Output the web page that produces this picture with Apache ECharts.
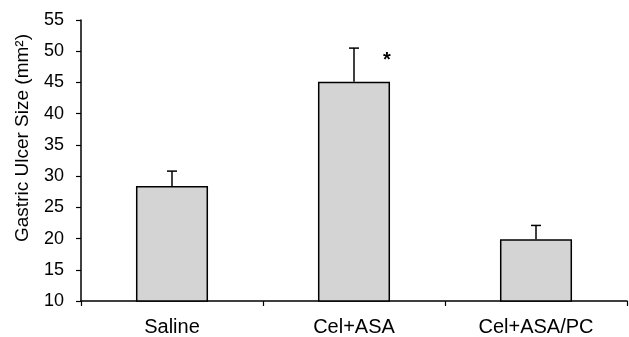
<!DOCTYPE html>
<html>
<head>
<meta charset="utf-8">
<script src="https://cdn.jsdelivr.net/npm/echarts@6/dist/echarts.min.js"></script>
<style>html,body{margin:0;padding:0;background:#fff}#c{width:629px;height:337px}</style>
</head>
<body>
<div id="c"></div>
<script>
var categories = ['Saline', 'Cel+ASA', 'Cel+ASA/PC'];
var means = [28.4, 45.1, 19.9];
var errorTops = [30.8, 50.5, 22.1];
var marks = ['', '*', ''];
var yTicks = [10, 15, 20, 25, 30, 35, 40, 45, 50, 55];
var yTitle = 'Gastric Ulcer Size (mm²)';

var chart = echarts.init(document.getElementById('c'), null, {renderer: 'canvas'});
var font = 'Liberation Sans, Arial, sans-serif';
chart.setOption({
  animation: false,
  grid: {left: 81, right: 2, top: 20, bottom: 35},
  graphic: [{
    type: 'text', x: 23, y: 138, rotation: Math.PI / 2,
    style: {text: yTitle, fill: '#000', font: '19px ' + font, textAlign: 'center', textVerticalAlign: 'middle'}
  }],
  xAxis: {
    type: 'category',
    data: categories,
    axisLine: {lineStyle: {color: '#000', width: 1.5}},
    axisTick: {show: true, length: 5, lineStyle: {color: '#000', width: 1.2}},
    axisLabel: {color: '#000', fontSize: 20, fontFamily: font, margin: 16}
  },
  yAxis: {
    type: 'value',
    min: yTicks[0], max: yTicks[yTicks.length - 1], interval: 5,
    axisLine: {show: true, lineStyle: {color: '#000', width: 1.5}},
    axisTick: {show: true, length: 5, lineStyle: {color: '#000', width: 1.2}},
    splitLine: {show: false},
    axisLabel: {color: '#000', fontSize: 18, fontFamily: font, margin: 17}
  },
  series: [
    {
      type: 'bar',
      data: means,
      barWidth: '39.6%',
      itemStyle: {color: '#d4d4d4', borderColor: '#000', borderWidth: 1.5}
    },
    {
      type: 'custom',
      data: categories.map(function (c, i) { return [i, means[i], errorTops[i]]; }),
      renderItem: function (params, api) {
        var i = api.value(0);
        var lo = api.coord([i, api.value(1)]);
        var hi = api.coord([i, api.value(2)]);
        var children = [
          {type: 'line', shape: {x1: hi[0], y1: lo[1], x2: hi[0], y2: hi[1]}, style: {stroke: '#000', lineWidth: 1.5}},
          {type: 'line', shape: {x1: hi[0] - 5, y1: hi[1], x2: hi[0] + 5, y2: hi[1]}, style: {stroke: '#000', lineWidth: 1.5}}
        ];
        if (marks[i]) {
          children.push({type: 'text', x: hi[0] + 33, y: hi[1] + 12,
            style: {text: marks[i], fill: '#000', font: 'bold 20px ' + font, textAlign: 'center', textVerticalAlign: 'middle'}});
        }
        return {type: 'group', children: children};
      },
      z: 5
    }
  ]
});
</script>
</body>
</html>
